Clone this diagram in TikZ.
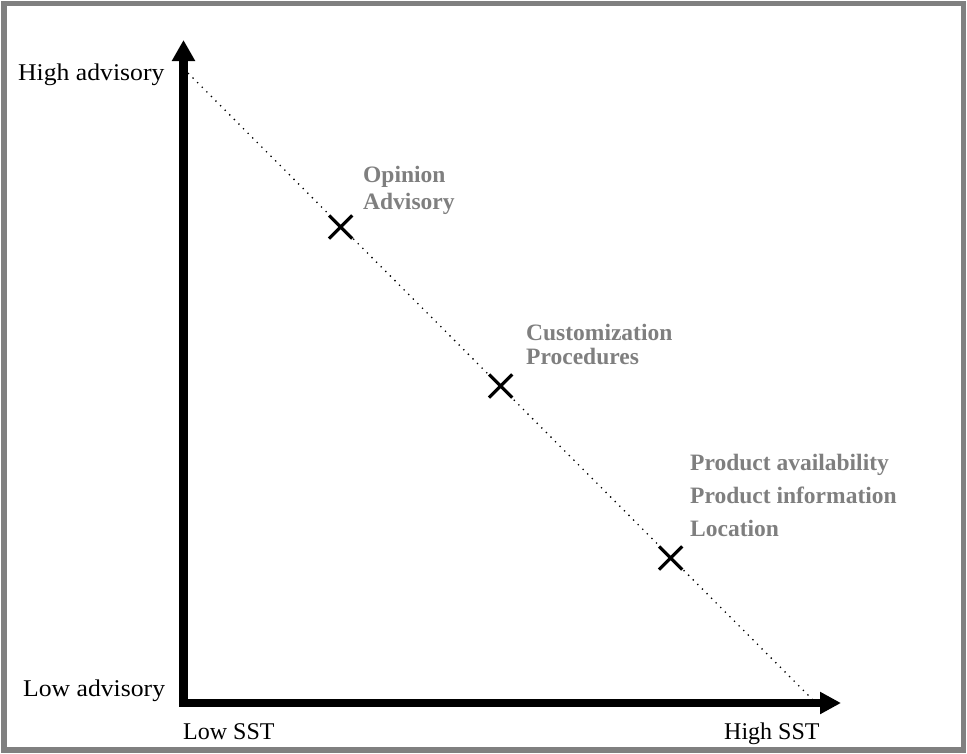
\documentclass[tikz,border=0pt]{standalone}
\usepackage{fontspec}
\setmainfont{Liberation Serif}
\newfontfamily\widefont[FakeStretch=1.07]{Liberation Serif}
\usetikzlibrary{arrows.meta,shapes.misc}
\definecolor{framegray}{RGB}{128,128,128}
\definecolor{labelgray}{RGB}{127,127,127}
\tikzset{
  axis/.style={line width=8.5pt,line join=miter,
    {Triangle[length=21pt,width=22pt]}-{Triangle[length=21pt,width=21pt]}},
  trend/.style={line width=1.3pt,dash pattern=on 1.3pt off 5.2pt},
  xmark/.style={cross out,draw,line width=3.2pt,minimum size=20pt,inner sep=0pt},
  axislabel/.style={anchor=base west,inner sep=0pt,font=\fontsize{24}{28}\selectfont},
  advlabel/.style={anchor=base west,inner sep=0pt,font=\widefont\fontsize{24}{28}\selectfont},
  catlabel/.style={anchor=base west,inner sep=0pt,text=labelgray,
    font=\bfseries\fontsize{23.5}{28}\selectfont}
}
\begin{document}
\begin{tikzpicture}[x=1pt,y=-1pt]
  \useasboundingbox (0,0) rectangle (967,753);
  % frame
  \draw[framegray,line width=5.5pt] (4,3.5) rectangle (963.5,750);

  % axes
  \coordinate (ytop) at (183.5,40);
  \coordinate (origin) at (183.5,703);
  \coordinate (xend) at (841,703);
  \draw[axis] (ytop) -- (origin) -- (xend);

  % trend line
  \coordinate (tstart) at (188,73);
  \coordinate (tend) at (813,700);
  \draw[trend] (tstart) -- (tend);

  % positions on the trend line
  \node[xmark] (m1) at (340.7,227) {};
  \node[xmark] (m2) at (500.7,386) {};
  \node[xmark] (m3) at (670.7,558) {};

  % axis labels
  \node[advlabel] (hiadv) at (18,80.5) {High advisory};
  \node[advlabel] (loadv) at (23,696) {Low advisory};
  \node[axislabel] (losst) at (183,739) {Low SST};
  \node[axislabel] (hisst) at (724,739) {High SST};

  % category labels
  \node[catlabel] (c1a) at (363,182) {Opinion};
  \node[catlabel] (c1b) at (363,209) {Advisory};
  \node[catlabel] (c2a) at (526,340) {Customization};
  \node[catlabel] (c2b) at (526,364) {Procedures};
  \node[catlabel] (c3a) at (690,470) {Product availability};
  \node[catlabel] (c3b) at (690,503) {Product information};
  \node[catlabel] (c3c) at (690,536) {Location};
\end{tikzpicture}
\end{document}
